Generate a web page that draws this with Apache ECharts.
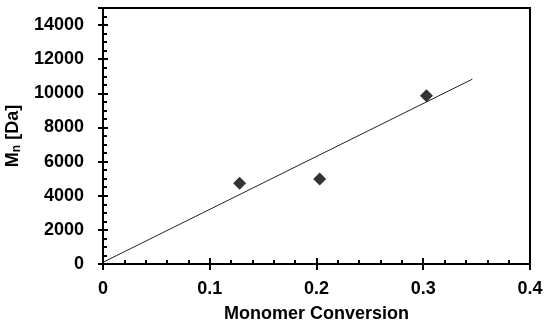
<!DOCTYPE html>
<html><head><meta charset="utf-8">
<script src="https://cdn.jsdelivr.net/npm/echarts@6/dist/echarts.min.js"></script>
<style>html,body{margin:0;padding:0;background:#fff}#c{width:550px;height:325px}</style>
</head><body><div id="c"></div>
<script>
var conversion = [0.128, 0.203, 0.303];
var mn = [4730, 4980, 9860];
var fitX = [0, 0.346];
var fitY = [100, 10830];
var xTicks = [0, 0.1, 0.2, 0.3, 0.4];
var yTicks = [0, 2000, 4000, 6000, 8000, 10000, 12000, 14000];

var pts = conversion.map(function(x,i){return [x, mn[i]];});
var fit = fitX.map(function(x,i){return [x, fitY[i]];});
var font = 'Liberation Sans';
var chart = echarts.init(document.getElementById('c'), null, {renderer:'canvas'});
// kind: 'main' (labels, outside major ticks), 'in' (inside major ticks), 'minor' (inside minor ticks)
function xa(kind){
  var main = kind === 'main';
  return {type:'value', min:0, max:0.4, interval: kind==='minor' ? 0.02 : 0.1, position:'bottom',
    axisLine:{show:true, lineStyle:{color:'#000', width:2}},
    axisTick:{show:true, inside:!main, length: kind==='minor' ? 4 : 6, lineStyle:{color:'#000', width:2}},
    splitLine:{show:false},
    axisLabel:{show:main, margin:16, color:'#000', fontFamily:font, fontWeight:'bold', fontSize:18,
      formatter:function(v){return String(+v.toFixed(1));}},
    name: main ? 'Monomer Conversion' : '', nameLocation:'middle', nameGap:41,
    nameTextStyle:{color:'#000', fontFamily:font, fontWeight:'bold', fontSize:18}};
}
function ya(kind){
  var main = kind === 'main';
  return {type:'value', min:0, max:15000, interval: kind==='minor' ? 500 : 2000, position:'left',
    axisLine:{show:true, lineStyle:{color:'#000', width:2}},
    axisTick:{show:true, inside:!main, length: kind==='minor' ? 4 : 5, lineStyle:{color:'#000', width:2}},
    splitLine:{show:false},
    axisLabel:{show:main, margin:19, color:'#000', fontFamily:font, fontWeight:'bold', fontSize:18,
      formatter:function(v){return yTicks.indexOf(v)>=0 ? String(v) : '';}},
    name: main ? '{m|M}{s|n}{m| [Da]}' : '', nameLocation:'middle', nameGap:78,
    nameTextStyle:{rich:{m:{color:'#000', fontFamily:font, fontWeight:'bold', fontSize:18},
      s:{color:'#000', fontFamily:font, fontWeight:'bold', fontSize:12, verticalAlign:'bottom', padding:[9,0,0,0]}}}};
}
chart.setOption({
  animation:false,
  backgroundColor:'#fff',
  grid:{left:103, right:20, top:8, bottom:61, show:true, borderColor:'#000', borderWidth:2, outerBoundsMode:'none', containLabel:false},
  xAxis:[xa('main'), xa('in'), xa('minor')],
  yAxis:[ya('main'), ya('in'), ya('minor')],
  series:[
    {type:'line', data:fit, xAxisIndex:0, yAxisIndex:0, symbol:'none', lineStyle:{color:'#222', width:1}},
    {type:'scatter', data:pts, xAxisIndex:0, yAxisIndex:0, symbol:'diamond', symbolSize:13, itemStyle:{color:'#000'}}
  ]
});
</script></body></html>
